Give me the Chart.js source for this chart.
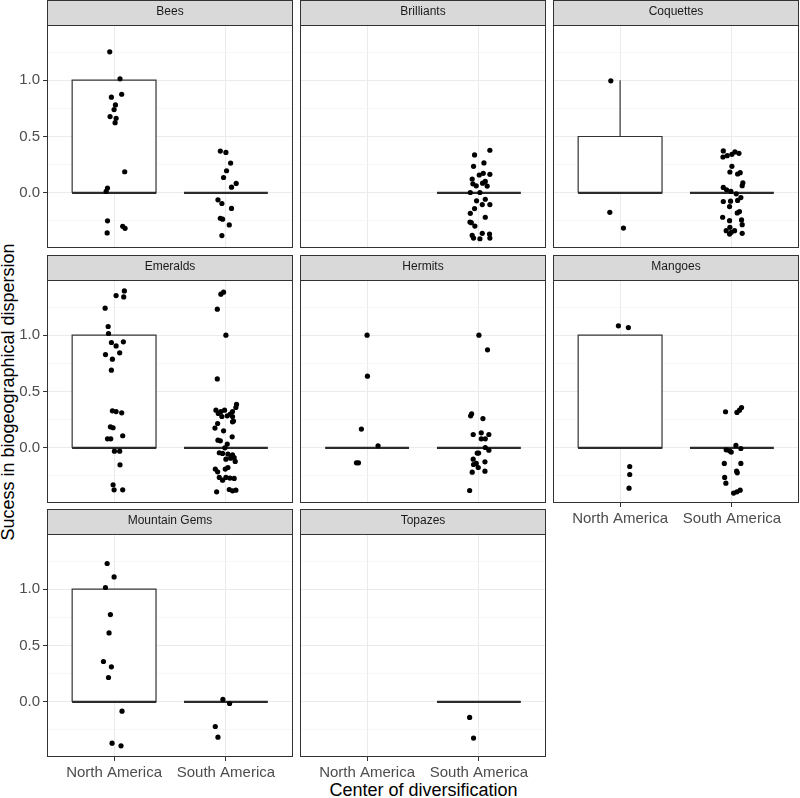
<!DOCTYPE html>
<html>
<head>
<meta charset="utf-8">
<script src="https://cdn.jsdelivr.net/npm/chart.js@4.4.1/dist/chart.umd.min.js"></script>
<style>
  html, body { margin: 0; padding: 0; background: #ffffff; }
  body { width: 800px; height: 798px; position: relative; overflow: hidden; font-family: "Liberation Sans", Arial, sans-serif; }
  #xtitle { position: absolute; left: 47px; width: 753px; top: 780px; height: 20px; line-height: 20px; text-align: center; font-size: 18px; color: #000; white-space: nowrap; }
  #ytitle { position: absolute; left: -192px; top: 382px; width: 400px; height: 20px; line-height: 20px; text-align: center; font-size: 18px; color: #000; white-space: nowrap; transform: rotate(-90deg); transform-origin: 50% 50%; }
</style>
</head>
<body>
<div id="xtitle">Center of diversification</div>
<div id="ytitle">Sucess in biogeographical dispersion</div>
<script>
// ---------------- DATA ----------------
const categories = ['North America', 'South America'];
const facetNames = ['Bees', 'Brilliants', 'Coquettes', 'Emeralds', 'Hermits', 'Mangoes', 'Mountain Gems', 'Topazes'];
const yTickValues = [0, 0.5, 1];
const yTickLabels = ['0.0', '0.5', '1.0'];
const yGridValues = [-0.25, 0, 0.25, 0.5, 0.75, 1, 1.25];

// boxplot statistics per facet (null = no observations)
const naQ1  = [0, null, 0,   0, 0, 0, 0, null];
const naMed = [0, null, 0,   0, 0, 0, 0, null];
const naQ3  = [1, null, 0.5, 1, 0, 1, 1, null];
const naLo  = [0, null, 0,   0, 0, 0, 0, null];
const naHi  = [1, null, 1,   1, 0, 1, 1, null];
const saQ1  = [0, 0, 0, 0, 0, 0, 0, 0];
const saMed = [0, 0, 0, 0, 0, 0, 0, 0];
const saQ3  = [0, 0, 0, 0, 0, 0, 0, 0];
const saLo  = [0, 0, 0, 0, 0, 0, 0, 0];
const saHi  = [0, 0, 0, 0, 0, 0, 0, 0];

// jittered observations: [x position (1 = North America, 2 = South America), value]
const beesNA = [[0.961,1.252],[1.053,1.012],[1.068,0.875],[0.976,0.849],[1.012,0.780],[1.000,0.739],[0.964,0.677],[1.018,0.662],[1.009,0.623],[1.095,0.187],[0.941,0.042],[0.929,0.012],[0.941,-0.249],[0.938,-0.356],[1.077,-0.297],[1.098,-0.315]];
const beesSA = [[1.950,0.371],[2.000,0.359],[2.042,0.264],[2.006,0.196],[1.979,0.136],[2.092,0.083],[2.050,0.050],[1.929,-0.062],[1.964,-0.095],[2.050,-0.139],[1.950,-0.226],[1.970,-0.234],[2.030,-0.285],[1.964,-0.380]];
const brilliantsNA = [];
const brilliantsSA = [[2.098,0.378],[1.961,0.336],[2.045,0.265],[1.952,0.235],[2.003,0.158],[2.039,0.173],[2.098,0.164],[1.940,0.122],[2.057,0.101],[1.946,0.080],[2.033,0.086],[2.074,0.060],[1.976,0.062],[1.923,0.003],[2.009,0.003],[1.979,-0.071],[2.057,-0.057],[2.030,-0.104],[2.098,-0.104],[1.961,-0.140],[1.923,-0.182],[2.057,-0.217],[1.920,-0.259],[1.932,-0.265],[1.964,-0.295],[1.940,-0.378],[1.952,-0.402],[2.009,-0.408],[2.030,-0.360],[2.095,-0.366],[2.098,-0.402]];
const coquettesNA = [[0.917,0.994],[0.908,-0.173],[1.030,-0.313]];
const coquettesSA = [[1.923,0.372],[1.920,0.318],[1.958,0.330],[2.000,0.342],[2.027,0.363],[2.063,0.351],[2.000,0.235],[1.982,0.185],[2.051,0.167],[2.074,0.179],[2.098,0.089],[2.092,0.063],[1.923,0.048],[1.952,0.027],[1.991,0.012],[2.039,-0.009],[2.080,-0.042],[2.051,-0.068],[1.923,-0.077],[1.988,-0.074],[1.979,-0.122],[2.048,-0.179],[2.068,-0.167],[1.917,-0.217],[1.979,-0.247],[2.086,-0.241],[2.092,-0.283],[1.982,-0.306],[1.949,-0.336],[1.994,-0.351],[2.024,-0.336],[1.979,-0.366],[2.092,-0.360]];
const emeraldsNA = [[1.092,1.393],[1.018,1.352],[1.086,1.340],[0.920,1.240],[0.947,1.077],[0.950,1.015],[0.976,0.935],[1.018,0.905],[1.083,0.941],[1.050,0.843],[0.923,0.828],[0.985,0.787],[0.976,0.689],[0.985,0.328],[1.018,0.322],[1.068,0.311],[0.967,0.186],[0.991,0.178],[1.077,0.107],[0.941,0.080],[0.970,0.080],[1.003,-0.030],[1.050,-0.030],[1.053,-0.151],[0.991,-0.328],[1.000,-0.373],[1.077,-0.373]];
const emeraldsSA = [[1.955,1.364],[1.979,1.382],[1.923,1.231],[2.000,1.000],[1.923,0.612],[2.095,0.385],[2.089,0.358],[1.911,0.334],[1.955,0.322],[1.988,0.334],[2.059,0.322],[2.039,0.299],[1.932,0.305],[1.964,0.278],[2.012,0.284],[2.059,0.278],[2.059,0.231],[2.068,0.237],[1.926,0.216],[1.902,0.175],[1.979,0.151],[2.056,0.098],[1.929,0.068],[1.950,0.062],[2.012,0.033],[1.991,0.000],[1.941,-0.044],[1.970,-0.050],[2.018,-0.056],[2.059,-0.062],[2.074,-0.086],[2.083,-0.121],[2.000,-0.101],[2.042,-0.092],[1.905,-0.189],[1.926,-0.213],[1.994,-0.189],[2.018,-0.175],[1.941,-0.263],[1.970,-0.287],[2.000,-0.263],[2.036,-0.269],[2.074,-0.272],[1.917,-0.391],[2.030,-0.370],[2.059,-0.382],[2.089,-0.376]];
const hermitsNA = [[1.000,1.000],[1.003,0.636],[0.949,0.166],[1.098,0.018],[0.905,-0.133],[0.923,-0.133]];
const hermitsSA = [[2.000,1.000],[2.077,0.870],[1.926,0.284],[1.935,0.302],[2.036,0.260],[1.949,0.118],[2.021,0.133],[2.089,0.118],[2.021,0.080],[2.057,0.080],[2.057,0.003],[2.089,-0.021],[1.997,-0.047],[1.985,-0.047],[1.949,-0.101],[2.054,-0.124],[1.952,-0.148],[1.976,-0.139],[1.994,-0.175],[1.940,-0.216],[2.054,-0.207],[1.917,-0.379]];
const mangoesNA = [[0.985,1.083],[1.074,1.068],[1.086,-0.166],[1.086,-0.237],[1.080,-0.358]];
const mangoesSA = [[1.943,0.320],[2.045,0.314],[2.068,0.334],[2.086,0.358],[2.036,0.021],[2.080,-0.006],[1.949,-0.018],[1.979,-0.027],[1.994,-0.038],[1.932,-0.139],[2.080,-0.139],[2.042,-0.207],[2.048,-0.222],[1.935,-0.263],[1.946,-0.314],[2.015,-0.402],[2.045,-0.391],[2.074,-0.376]];
const gemsNA = [[0.938,1.228],[1.000,1.109],[0.923,1.015],[0.967,0.775],[0.955,0.612],[0.905,0.358],[0.976,0.311],[0.950,0.216],[1.071,-0.083],[0.982,-0.367],[1.062,-0.391]];
const gemsSA = [[1.973,0.021],[2.033,-0.015],[1.905,-0.219],[1.929,-0.314]];
const topazesNA = [];
const topazesSA = [[1.917,-0.139],[1.952,-0.322]];

const pointsNA = [beesNA, brilliantsNA, coquettesNA, emeraldsNA, hermitsNA, mangoesNA, gemsNA, topazesNA];
const pointsSA = [beesSA, brilliantsSA, coquettesSA, emeraldsSA, hermitsSA, mangoesSA, gemsSA, topazesSA];

// ---------------- LAYOUT / STYLE ----------------
const PANEL_LEFT = [47, 300, 553];
const ROW_TOP = [0, 255, 509];
const PANEL_W = 246, PANEL_H = 223, STRIP_H = 25;
const Y_AXIS_W = 47, X_AXIS_H = 35;
const BOX_WIDTH = 0.75;
const FONT = "'Liberation Sans', Arial, sans-serif";

Chart.defaults.font.family = FONT;

const facetPlugin = {
  id: 'facet',
  beforeDraw(chart) {
    const { ctx, chartArea: a } = chart;
    ctx.save();
    ctx.fillStyle = '#d9d9d9';
    ctx.fillRect(a.left, 0, a.right - a.left, a.top);
    ctx.strokeStyle = '#333333';
    ctx.lineWidth = 1;
    ctx.strokeRect(a.left + 0.5, 0.5, a.right - a.left - 1, a.top);
    ctx.restore();
  },
  afterDraw(chart) {
    const { ctx, chartArea: a } = chart;
    ctx.save();
    ctx.strokeStyle = '#333333';
    ctx.lineWidth = 1;
    ctx.strokeRect(a.left + 0.5, a.top + 0.5, a.right - a.left - 1, a.bottom - a.top - 1);
    ctx.restore();
  }
};

function boxDatasets(center, q1, med, q3, lo, hi) {
  const out = [];
  if (q1 === null) return out;
  const h = BOX_WIDTH / 2;
  const common = { showLine: true, pointRadius: 0, pointHoverRadius: 0, pointHitRadius: 0, borderColor: '#333333', tension: 0 };
  if (q3 > q1) {
    out.push(Object.assign({}, common, {
      data: [{x: center - h, y: q1}, {x: center + h, y: q1}, {x: center + h, y: q3}, {x: center - h, y: q3}, {x: center - h, y: q1}],
      borderWidth: 1.2, fill: 'shape', backgroundColor: '#ffffff', order: 3
    }));
  }
  if (hi > q3) {
    out.push(Object.assign({}, common, { data: [{x: center, y: q3}, {x: center, y: hi}], borderWidth: 1.2, fill: false, order: 2 }));
  }
  if (lo < q1) {
    out.push(Object.assign({}, common, { data: [{x: center, y: q1}, {x: center, y: lo}], borderWidth: 1.2, fill: false, order: 2 }));
  }
  out.push(Object.assign({}, common, {
    data: [{x: center - h, y: med}, {x: center + h, y: med}],
    borderWidth: 2.3, borderColor: '#2b2b2b', fill: false, order: 1
  }));
  return out;
}

const isMajor = v => yTickValues.some(t => Math.abs(t - v) < 1e-9);

facetNames.forEach((name, i) => {
  const col = i % 3, row = Math.floor(i / 3);
  const showY = col === 0;
  const showX = i >= 5;
  const yW = showY ? Y_AXIS_W : 0;
  const xH = showX ? X_AXIS_H : 0;
  const left = PANEL_LEFT[col] - yW;
  const top = ROW_TOP[row];
  const w = PANEL_W + yW;
  const h = STRIP_H + PANEL_H + xH;

  const cv = document.createElement('canvas');
  cv.width = w; cv.height = h;
  cv.style.cssText = `position:absolute;left:${left}px;top:${top}px;width:${w}px;height:${h}px;`;
  document.body.appendChild(cv);

  const pts = pointsNA[i].concat(pointsSA[i]).map(p => ({x: p[0], y: p[1]}));
  const datasets = [{
    data: pts, pointRadius: 2.6, pointHoverRadius: 2.6, pointBackgroundColor: '#000000',
    pointBorderWidth: 0, backgroundColor: '#000000', borderWidth: 0, order: 0
  }].concat(
    boxDatasets(1, naQ1[i], naMed[i], naQ3[i], naLo[i], naHi[i]),
    boxDatasets(2, saQ1[i], saMed[i], saQ3[i], saLo[i], saHi[i])
  );

  new Chart(cv, {
    type: 'scatter',
    data: { datasets },
    plugins: [facetPlugin],
    options: {
      responsive: false,
      animation: false,
      events: [],
      devicePixelRatio: 1,
      layout: { padding: 0, autoPadding: false },
      plugins: {
        legend: { display: false },
        tooltip: { enabled: false },
        title: {
          display: true, text: name, fullSize: false, color: '#1a1a1a',
          font: { size: 12, weight: 'normal', lineHeight: '14px' },
          padding: { top: 5, bottom: 6 }
        }
      },
      scales: {
        x: {
          type: 'linear', min: 0.4, max: 2.6,
          afterBuildTicks: s => { s.ticks = [1, 2].map(v => ({ value: v })); },
          afterFit: s => { s.height = xH; s.paddingLeft = 0; s.paddingRight = 0; },
          ticks: {
            display: showX, autoSkip: false, maxRotation: 0, padding: 3,
            color: '#4d4d4d', font: { size: 15 },
            callback: (v, idx) => categories[idx]
          },
          grid: { color: '#ebebeb', lineWidth: 1, drawTicks: showX, tickLength: 4, tickColor: '#333333', tickWidth: 1 },
          border: { display: false }
        },
        y: {
          type: 'linear', min: -0.49, max: 1.49,
          afterBuildTicks: s => { s.ticks = yGridValues.map(v => ({ value: v })); },
          afterFit: s => { s.width = yW; s.paddingTop = 0; s.paddingBottom = 0; },
          ticks: {
            display: showY, autoSkip: false, padding: 3,
            color: '#4d4d4d', font: { size: 15 },
            callback: v => { const k = yTickValues.findIndex(t => Math.abs(t - v) < 1e-9); return k >= 0 ? yTickLabels[k] : ''; }
          },
          grid: {
            color: c => isMajor(c.tick.value) ? '#ebebeb' : '#f3f3f3',
            lineWidth: c => isMajor(c.tick.value) ? 1 : 0.7,
            drawTicks: showY, tickLength: 4,
            tickColor: c => isMajor(c.tick.value) ? '#333333' : 'rgba(0,0,0,0)',
            tickWidth: 1
          },
          border: { display: false }
        }
      }
    }
  });
});
</script>
</body>
</html>
